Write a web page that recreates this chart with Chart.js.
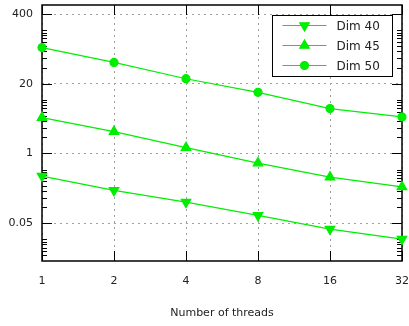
<!DOCTYPE html>
<html>
<head>
<meta charset="utf-8">
<script src="https://cdn.jsdelivr.net/npm/chart.js@4.4.0/dist/chart.umd.min.js"></script>
<style>
html, body { margin: 0; padding: 0; background: #fff; }
#wrap { width: 409px; height: 326px; }
</style>
</head>
<body>
<div id="wrap"><canvas id="chart"></canvas></div>
<script>
// Dados
const threads = ['1', '2', '4', '8', '16', '32'];
const dim40 = [0.378, 0.204, 0.123, 0.0695, 0.0387, 0.0252];
const dim45 = [4.67, 2.56, 1.28, 0.66, 0.36, 0.237];
const dim50 = [94.6, 50, 24.8, 13.8, 6.86, 4.8];
const yTicks = [0.05, 1, 20, 400];
const seriesNames = ['Dim 40', 'Dim 45', 'Dim 50'];

const green = '#00ee00';
const font = 'DejaVu Sans';

// moldura, marcas maiores e menores (estilo gnuplot)
const framePlugin = {
  id: 'frame',
  beforeDatasetsDraw(chart) {
    const { ctx, chartArea: a, scales } = chart;
    ctx.save();
    ctx.strokeStyle = '#000';
    ctx.lineWidth = 1;
    ctx.beginPath();
    // marcas do eixo y
    yTicks.forEach(v => {
      const y = Math.round(scales.y.getPixelForValue(v)) + 0.5;
      ctx.moveTo(a.left, y); ctx.lineTo(a.left + 10, y);
      ctx.moveTo(a.right, y); ctx.lineTo(a.right - 10, y);
      for (let k = 2; k <= 10; k++) {
        const ym = Math.round(scales.y.getPixelForValue(v * k)) + 0.5;
        if (ym < a.top) continue;
        ctx.moveTo(a.left, ym); ctx.lineTo(a.left + 5, ym);
        ctx.moveTo(a.right, ym); ctx.lineTo(a.right - 5, ym);
      }
    });
    // marcas menores abaixo de 0.05
    for (let k = 2; k <= 10; k++) {
      const ym = Math.round(scales.y.getPixelForValue(0.05 / 20 * k)) + 0.5;
      if (ym > a.bottom) continue;
      ctx.moveTo(a.left, ym); ctx.lineTo(a.left + 5, ym);
      ctx.moveTo(a.right, ym); ctx.lineTo(a.right - 5, ym);
    }
    // marcas do eixo x
    threads.forEach((t, i) => {
      const x = Math.round(scales.x.getPixelForValue(i)) + 0.5;
      ctx.moveTo(x, a.bottom); ctx.lineTo(x, a.bottom - 10);
      ctx.moveTo(x, a.top); ctx.lineTo(x, a.top + 10);
    });
    ctx.stroke();
    ctx.lineWidth = 1.5;
    ctx.strokeRect(a.left, a.top, a.right - a.left, a.bottom - a.top);
    ctx.restore();
  }
};

// legenda com caixa, linha e marcador
const legendPlugin = {
  id: 'boxLegend',
  afterDraw(chart) {
    const { ctx, chartArea: a } = chart;
    const x0 = a.right - 129.5, y0 = a.top + 10.5, w = 120, h = 61;
    ctx.save();
    ctx.fillStyle = '#fff';
    ctx.fillRect(x0, y0, w, h);
    ctx.strokeStyle = '#000';
    ctx.lineWidth = 1;
    ctx.strokeRect(x0, y0, w, h);
    chart.data.datasets.forEach((ds, i) => {
      const y = y0 + 10 + i * 20;
      ctx.strokeStyle = ds.borderColor;
      ctx.fillStyle = ds.pointBackgroundColor;
      ctx.lineWidth = ds.borderWidth;
      ctx.beginPath();
      ctx.moveTo(x0 + 10, y); ctx.lineTo(x0 + 54, y);
      ctx.stroke();
      Chart.helpers.drawPoint(ctx, {
        pointStyle: ds.pointStyle,
        radius: ds.pointRadius,
        rotation: ds.pointRotation || 0,
        borderWidth: 1
      }, x0 + 32, y);
      ctx.fillStyle = '#222';
      ctx.font = '12px "' + font + '"';
      ctx.textBaseline = 'middle';
      ctx.fillText(seriesNames[i], x0 + 64, y + 1);
    });
    ctx.restore();
  }
};

function serie(label, data, style, radius, rotation) {
  return {
    label: label,
    data: data,
    borderColor: green,
    backgroundColor: green,
    pointBackgroundColor: green,
    pointBorderColor: green,
    borderWidth: 1.2,
    pointStyle: style,
    pointRadius: radius,
    pointRotation: rotation,
    tension: 0
  };
}

const ctx = document.getElementById('chart').getContext('2d');
const chart = new Chart(ctx, {
  type: 'line',
  data: {
    labels: threads,
    datasets: [
      serie(seriesNames[0], dim40, 'triangle', 5.5, 180),
      serie(seriesNames[1], dim45, 'triangle', 5.5, 0),
      serie(seriesNames[2], dim50, 'circle', 4, 0)
    ]
  },
  options: {
    responsive: true,
    maintainAspectRatio: false,
    animation: false,
    layout: { autoPadding: false, padding: { left: 0, right: 7, top: 5, bottom: 0 } },
    plugins: {
      legend: { display: false },
      tooltip: { enabled: false }
    },
    scales: {
      x: {
        type: 'category',
        offset: false,
        grid: { color: '#a0a0a0', drawTicks: false, lineWidth: 1 },
        border: { display: false, dash: [2, 4] },
        ticks: { color: '#222', font: { family: font, size: 11 }, padding: 14, maxRotation: 0 },
        title: {
          display: true,
          text: 'Number of threads',
          color: '#222',
          font: { family: font, size: 11 },
          padding: { top: 10, bottom: 6 }
        },
        afterFit(scale) {
          scale.height = 65;
          scale.paddingLeft = 0;
          scale.paddingRight = 0;
        }
      },
      y: {
        type: 'logarithmic',
        min: 0.0098,
        max: 590,
        grid: { color: '#a0a0a0', drawTicks: false, lineWidth: 1 },
        border: { display: false, dash: [2, 4] },
        ticks: {
          color: '#222',
          font: { family: font, size: 11 },
          padding: 9,
          callback: v => String(v)
        },
        afterBuildTicks(scale) { scale.ticks = yTicks.map(v => ({ value: v })); },
        afterFit(scale) {
          scale.width = 42;
          scale.paddingTop = 0;
          scale.paddingBottom = 0;
        }
      }
    }
  },
  plugins: [framePlugin, legendPlugin]
});
</script>
</body>
</html>
